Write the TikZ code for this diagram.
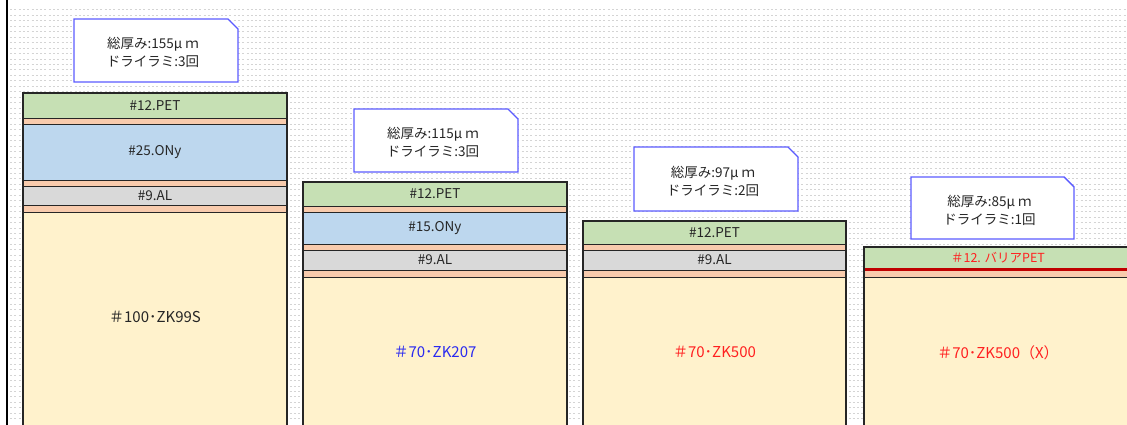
\documentclass[tikz,border=0pt]{standalone}
\usepackage{fontspec}
\setmainfont{Noto Sans CJK JP}
\definecolor{cpet}{HTML}{C6E0B4}
\definecolor{cor}{HTML}{F8CBAD}
\definecolor{cony}{HTML}{BDD7EE}
\definecolor{cal}{HTML}{D9D9D9}
\definecolor{czk}{HTML}{FFF2CC}
\definecolor{cred}{HTML}{C00000}
\definecolor{ctred}{HTML}{FF2020}
\definecolor{ctblue}{HTML}{2A2AF0}
\definecolor{cbord}{HTML}{5B5BFF}
\definecolor{cgrid}{HTML}{D4D4D4}
\newcommand\lyr[7]{\node[lay, fill=#6, minimum width={#4-#2}, minimum height={#5-#3}] (#1) at (#2,#3) {#7};}
\begin{document}
\begin{tikzpicture}[x=1pt,y=-1pt,
  lay/.style={draw=black!85, line width=0.8pt, anchor=north west, inner sep=0pt, outer sep=0pt, text=black!85, font=\fontsize{13.5}{14}\selectfont},
  colframe/.style={draw=black!85, line width=1.6pt},
  gridline/.style={draw=cgrid, line width=1pt, dash pattern=on 2pt off 2.3pt},
  calltext/.style={inner sep=0pt, align=center, font=\fontsize{13.5}{18}\selectfont, text=black!85},
  callout/.style={draw=cbord, fill=white, line width=1.4pt}]
\useasboundingbox (0,0) rectangle (1127,425);
\fill[white] (0,0) rectangle (1127,425);
\foreach \i in {0,...,75} \draw[gridline] (10,{10+5.45*\i}) -- (1127,{10+5.45*\i});
\draw[line width=2pt] (7,0) -- (7,425);
% column 1
\lyr{pa}{23}{93}{287}{118}{cpet}{\#12.PET}
\lyr{oa1}{23}{118}{287}{124}{cor}{}
\lyr{na}{23}{124}{287}{180}{cony}{\#25.ONy}
\lyr{oa2}{23}{180}{287}{186}{cor}{}
\lyr{aa}{23}{186}{287}{205}{cal}{\raisebox{-3pt}{\#9.AL}}
\lyr{oa3}{23}{205}{287}{212}{cor}{}
\lyr{za}{23}{212}{287}{432}{czk}{\raisebox{10pt}{\fontsize{15}{16}\selectfont ＃100･ZK99S}}
\draw[colframe] (23,432) -- (23,93) -- (287,93) -- (287,432);
% column 2
\lyr{pb}{303}{182}{567}{206}{cpet}{\#12.PET}
\lyr{ob1}{303}{206}{567}{212}{cor}{}
\lyr{nb}{303}{212}{567}{244}{cony}{\#15.ONy}
\lyr{ob2}{303}{244}{567}{250}{cor}{}
\lyr{ab}{303}{250}{567}{270}{cal}{\raisebox{-2pt}{\#9.AL}}
\lyr{ob3}{303}{270}{567}{277}{cor}{}
\lyr{zb}{303}{277}{567}{432}{czk}{\raisebox{5pt}{\fontsize{15}{16}\selectfont\color{ctblue}＃70･ZK207}}
\draw[colframe] (303,432) -- (303,182) -- (567,182) -- (567,432);
% column 3
\lyr{pc}{583}{221}{846}{244}{cpet}{\#12.PET}
\lyr{oc1}{583}{244}{846}{250}{cor}{}
\lyr{ac}{583}{250}{846}{270}{cal}{\raisebox{-2pt}{\#9.AL}}
\lyr{oc2}{583}{270}{846}{277}{cor}{}
\lyr{zc}{583}{277}{846}{432}{czk}{\raisebox{5pt}{\fontsize{15}{16}\selectfont\color{ctred}＃70･ZK500}}
\draw[colframe] (583,432) -- (583,221) -- (846,221) -- (846,432);
% column 4
\lyr{pd}{864}{247}{1132}{269}{cpet}{\fontsize{12.5}{13}\selectfont\color{ctred}＃12. バリアPET}
\lyr{od}{864}{269}{1132}{277}{cor}{}
\lyr{zd}{864}{277}{1132}{432}{czk}{\raisebox{5pt}{\fontsize{15}{16}\selectfont\color{ctred}＃70･ZK500（X）}}
\draw[cred, line width=3pt] (pd.south west) -- (pd.south east);
\draw[colframe] (864,432) -- (864,247) -- (1132,247);
% callouts
\foreach \n/\xa/\ya/\xb/\yb/\t in {
  ca/74/19/238/82/{総厚み:155μ ｍ\\ドライラミ:3回},
  cb/354/109/518/172/{総厚み:115μ ｍ\\ドライラミ:3回},
  cc/634/147/798/211/{総厚み:97μ ｍ\\ドライラミ:2回},
  cd/911/177/1074/239/{総厚み:85μ ｍ\\ドライラミ:1回}} {
  \draw[callout] (\xa,\yb) -- (\xa,\ya) -- (\xb-10,\ya) -- (\xb,\ya+10) -- (\xb,\yb) -- cycle;
  \node[calltext] (\n) at ({(\xa+\xb)/2-3},{(\ya+\yb)/2+2}) {\t};
}
\end{tikzpicture}
\end{document}
